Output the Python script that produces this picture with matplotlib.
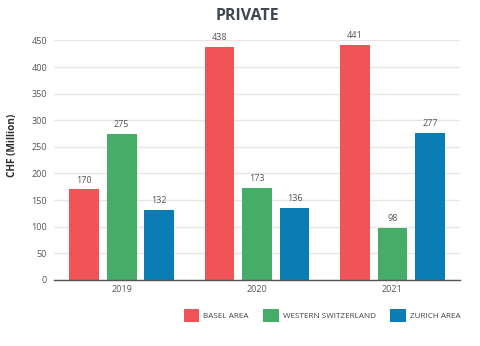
import matplotlib
matplotlib.use("Agg")
import matplotlib.pyplot as plt
import numpy as np

years = ["2019", "2020", "2021"]
series_names = ["BASEL AREA", "WESTERN SWITZERLAND", "ZURICH AREA"]
basel = [170, 438, 441]
western = [275, 173, 98]
zurich = [132, 136, 277]
colors = ["#F05457", "#45AD68", "#0A7DB5"]
yticks = [0, 50, 100, 150, 200, 250, 300, 350, 400, 450]

plt.rcParams['font.family'] = ['Open Sans', 'DejaVu Sans']

fig = plt.figure(figsize=(4.8, 3.46), dpi=100)
ax = fig.add_axes([0.1125, 0.191, 0.846, 0.692])

x = np.arange(len(years))
width = 0.22
offsets = [-0.277, 0, 0.277]
handles = []
for vals, off, col, name in zip([basel, western, zurich], offsets, colors, series_names):
    bars = ax.bar(x + off, vals, width, color=col, label=name, zorder=3)
    handles.append(bars)
    for xi, v in zip(x, vals):
        ax.text(xi + off, v + 9, str(v), ha='center', va='bottom', fontsize=6.5,
                color='#555555', clip_on=False)

ax.set_xlim(-0.5, 2.5)
ax.set_ylim(0, 450)
ax.set_yticks(yticks)
ax.set_xticks(x)
ax.set_xticklabels(years)
ax.tick_params(axis='both', length=0, labelsize=6.5, colors='#555555')
ax.tick_params(axis='y', pad=5)
ax.tick_params(axis='x', pad=4)
ax.grid(axis='y', color='#e6e6e6', linewidth=1, zorder=0)
for s in ['top', 'right', 'left']:
    ax.spines[s].set_visible(False)
ax.spines['bottom'].set_color('#555555')
ax.spines['bottom'].set_linewidth(1)
ax.spines['bottom'].set_zorder(4)

ax.set_ylabel("CHF (Million)", fontsize=7.2, fontweight='bold', color='#2b2b2b')
ax.yaxis.set_label_coords(-0.088, 0.56)
fig.text(0.516, 0.955, "PRIVATE", ha='center', va='center', fontsize=11.5,
         fontweight='bold', color='#3d4752')

leg = fig.legend(handles=handles, labels=series_names, loc='center', ncol=3,
                 bbox_to_anchor=(0.671, 0.088), frameon=False, fontsize=5.9,
                 handlelength=1.9, handleheight=1.9, handletextpad=0.45,
                 columnspacing=1.8, labelcolor='#444444')

fig.savefig("out.png", dpi=100)
